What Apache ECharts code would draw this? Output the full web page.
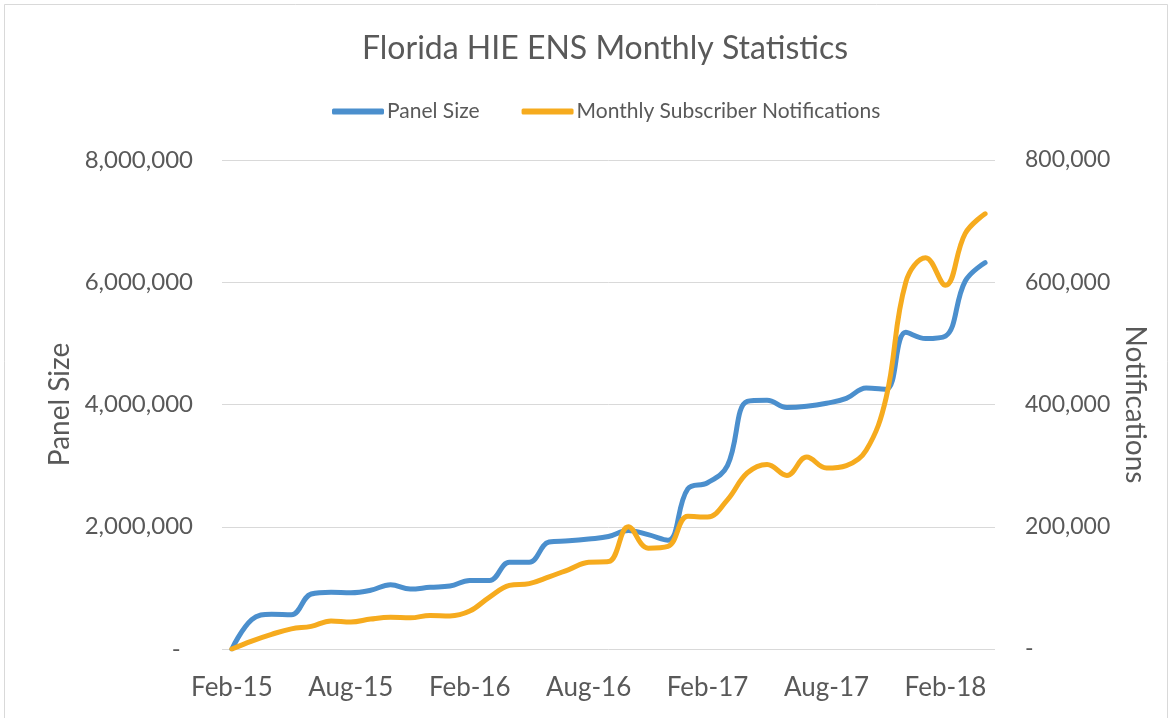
<!DOCTYPE html>
<html>
<head>
<meta charset="utf-8">
<title>Florida HIE ENS Monthly Statistics</title>
<script src="https://cdn.jsdelivr.net/npm/echarts@6/dist/echarts.min.js"></script>
<style>
  html, body { margin: 0; padding: 0; background: #fff; }
  #chart { width: 1172px; height: 718px; }
</style>
</head>
<body>
<div id="chart"></div>
<script>
const months = [
  'Feb-15', 'Mar-15', 'Apr-15', 'May-15', 'Jun-15', 'Jul-15', 'Aug-15', 'Sep-15', 'Oct-15', 'Nov-15', 'Dec-15', 'Jan-16',
  'Feb-16', 'Mar-16', 'Apr-16', 'May-16', 'Jun-16', 'Jul-16', 'Aug-16', 'Sep-16', 'Oct-16', 'Nov-16', 'Dec-16', 'Jan-17',
  'Feb-17', 'Mar-17', 'Apr-17', 'May-17', 'Jun-17', 'Jul-17', 'Aug-17', 'Sep-17', 'Oct-17', 'Nov-17', 'Dec-17', 'Jan-18',
  'Feb-18', 'Mar-18', 'Apr-18'
]

// panel size (left axis)
const panelSize = [
  0, 480000, 570000, 560000, 900000, 930000, 920000, 960000, 1050000, 980000, 1010000, 1030000,
  1120000, 1120000, 1420000, 1420000, 1750000, 1770000, 1800000, 1840000, 1940000, 1870000, 1780000, 2620000,
  2720000, 3000000, 4050000, 4070000, 3950000, 3970000, 4020000, 4100000, 4270000, 4250000, 5180000, 5080000,
  5120000, 6020000, 6320000
]

// monthly subscriber notifications (right axis)
const notifications = [
  0, 13000, 24000, 33000, 37000, 46000, 44000, 49000, 52000, 51000, 55000, 54000,
  62000, 85000, 104000, 107000, 118000, 130000, 142000, 143000, 200000, 165000, 168000, 217000,
  216000, 244000, 288000, 302000, 284000, 314000, 296000, 300000, 325000, 410000, 600000, 640000,
  595000, 680000, 712000
]

const textColor = '#595959'
const gridColor = '#D9D9D9'
const font = 'Lato, "Open Sans", sans-serif'

const chart = echarts.init(document.getElementById('chart'))

function fmt(v) {
  return v.toLocaleString('en-US')
}

chart.setOption({
  backgroundColor: '#fff',
  textStyle: { fontFamily: font },
  title: {
    text: 'Florida HIE ENS Monthly Statistics',
    left: 357,
    top: 28,
    textStyle: { color: textColor, fontSize: 32, fontWeight: 'normal', fontFamily: font },
  },
  legend: {
    top: 96,
    left: 327,
    icon: 'roundRect',
    itemWidth: 52,
    itemHeight: 6,
    itemGap: 42,
    textStyle: { color: textColor, fontSize: 21, fontFamily: font, padding: [0, 0, 0, -2] },
    data: ['Panel Size', 'Monthly Subscriber Notifications'],
  },
  grid: { left: 222, right: 177, top: 160, bottom: 69 },
  xAxis: {
    type: 'category',
    data: months,
    boundaryGap: true,
    axisLine: { show: false },
    axisTick: { show: false },
    axisLabel: { interval: 5, color: textColor, fontSize: 26, margin: 26, fontFamily: font },
  },
  yAxis: [
    {
      type: 'value',
      min: 0,
      max: 8000000,
      interval: 2000000,
      name: 'Panel Size',
      nameLocation: 'middle',
      nameGap: 148,
      nameTextStyle: { color: textColor, fontSize: 28, fontFamily: font },
      axisLine: { show: false },
      axisTick: { show: false },
      splitLine: { lineStyle: { color: gridColor, width: 1 } },
      axisLabel: {
        color: textColor,
        fontSize: 24,
        margin: 29,
        fontFamily: font,
        formatter: (v) => (v === 0 ? '-  ' : fmt(v)),
      },
    },
    {
      type: 'value',
      min: 0,
      max: 800000,
      interval: 200000,
      name: 'Notifications',
      nameLocation: 'middle',
      nameRotate: -90,
      nameGap: 126,
      nameTextStyle: { color: textColor, fontSize: 28, fontFamily: font },
      axisLine: { show: false },
      axisTick: { show: false },
      splitLine: { show: false },
      axisLabel: {
        color: textColor,
        fontSize: 23,
        margin: 30,
        fontFamily: font,
        formatter: (v) => (v === 0 ? '-' : fmt(v)),
      },
    },
  ],
  graphic: [
    {
      type: 'rect',
      silent: true,
      shape: { x: 4.5, y: 4.5, width: 1163, height: 740 },
      style: { fill: 'none', stroke: gridColor, lineWidth: 1 },
    },
  ],
  series: [
    {
      name: 'Panel Size',
      type: 'line',
      yAxisIndex: 0,
      data: panelSize,
      smooth: 0.4,
      showSymbol: false,
      lineStyle: { color: '#4B8FCD', width: 5, cap: 'round' },
      itemStyle: { color: '#4B8FCD' },
    },
    {
      name: 'Monthly Subscriber Notifications',
      type: 'line',
      yAxisIndex: 1,
      data: notifications,
      smooth: 0.4,
      showSymbol: false,
      lineStyle: { color: '#F6AB1E', width: 5, cap: 'round' },
      itemStyle: { color: '#F6AB1E' },
    },
  ],
})
</script>
</body>
</html>
